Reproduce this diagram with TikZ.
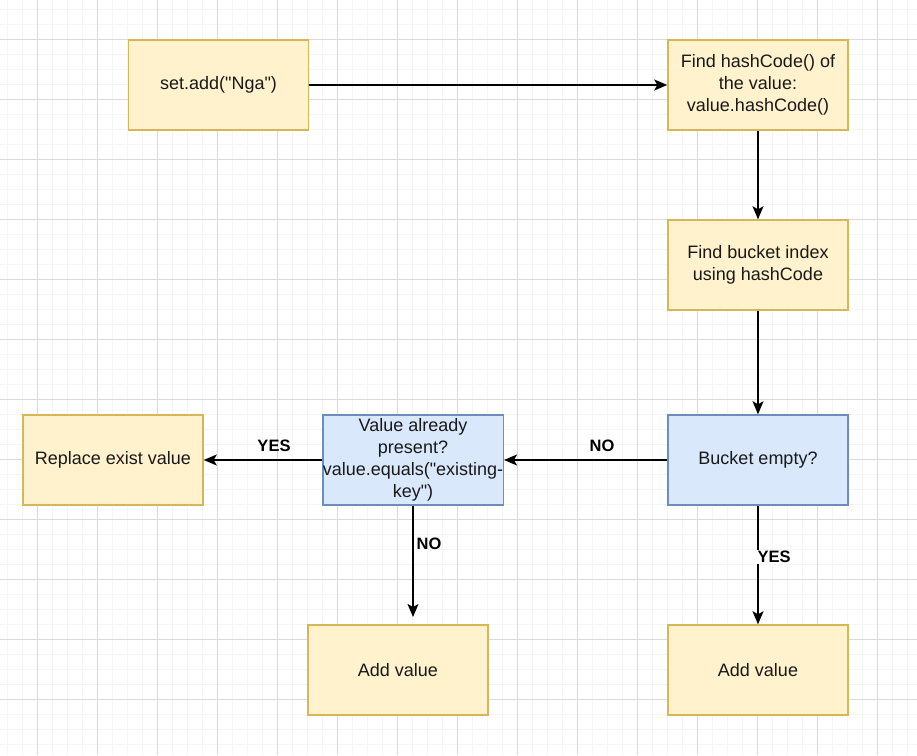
\documentclass[tikz,border=0pt]{standalone}
\usepackage{fontspec}
\setmainfont{Liberation Sans}
\usetikzlibrary{arrows.meta}
\definecolor{yfill}{HTML}{FFF2CC}
\definecolor{ydraw}{HTML}{D6B656}
\definecolor{bfill}{HTML}{DAE8FC}
\definecolor{bdraw}{HTML}{6C8EBF}
\definecolor{minorgrid}{HTML}{F5F5F5}
\definecolor{majorgrid}{HTML}{DADADA}
\tikzset{
  box/.style={draw, line width=1.5pt, minimum width=180pt, minimum height=90pt,
    inner sep=0pt, align=center, font=\fontsize{18}{22}\selectfont, text=black!90},
  ybox/.style={box, fill=yfill, draw=ydraw},
  bbox/.style={box, fill=bfill, draw=bdraw},
  conn/.style={line width=1.5pt, -{Stealth[length=13pt,width=11pt,inset=3pt]}},
  lbl/.style={font=\fontsize{16.5}{19}\selectfont\bfseries, inner sep=1pt, text=black}
}
\newcommand{\dq}{\textquotedbl}
\begin{document}
\begin{tikzpicture}[x=1pt,y=-1pt]
\useasboundingbox (0,0) rectangle (917,755);
\fill[white] (0,0) rectangle (917,755);
% grid
\foreach \i in {0,...,60} {
  \draw[minorgrid, line width=1pt] (7+15*\i,0) -- (7+15*\i,755);
}
\foreach \j in {0,...,49} {
  \draw[minorgrid, line width=1pt] (0,9+15*\j) -- (917,9+15*\j);
}
\foreach \i in {0,...,15} {
  \draw[majorgrid, line width=1pt] (37+60*\i,0) -- (37+60*\i,755);
}
\foreach \j in {0,...,12} {
  \draw[majorgrid, line width=1pt] (0,39+60*\j) -- (917,39+60*\j);
}
% nodes
\node[ybox] (add) at (218.5,85) {set.add(\dq Nga\dq)};
\node[ybox] (hash) at (758,85) {Find hashCode() of\\the value:\\value.hashCode()};
\node[ybox] (bucket) at (758,265) {Find bucket index\\using hashCode};
\node[bbox] (empty) at (758,460) {Bucket empty?};
\node[bbox] (present) at (413,460) {Value already\\present?\\value.equals(\dq existing-\\key\dq)};
\node[ybox] (replace) at (113,460) {Replace exist value};
\node[ybox] (addL) at (398,670) {Add value};
\node[ybox] (addR) at (758,670) {Add value};
\coordinate (endL) at (413,617);
% connectors
\draw[conn] (add) -- (hash);
\draw[conn] (hash) -- (bucket);
\draw[conn] (bucket) -- (empty);
\draw[conn] (empty) -- (present);
\draw[conn] (present) -- (replace);
\draw[conn] (present.south) -- (endL);
\draw[conn] (empty) -- (addR);
% labels
\node[lbl] (lyes1) at (274,446) {YES};
\node[lbl] (lno1) at (602,446) {NO};
\node[lbl] (lno2) at (429,544) {NO};
\node[lbl, fill=white] (lyes2) at (774,557) {YES};
\end{tikzpicture}
\end{document}
